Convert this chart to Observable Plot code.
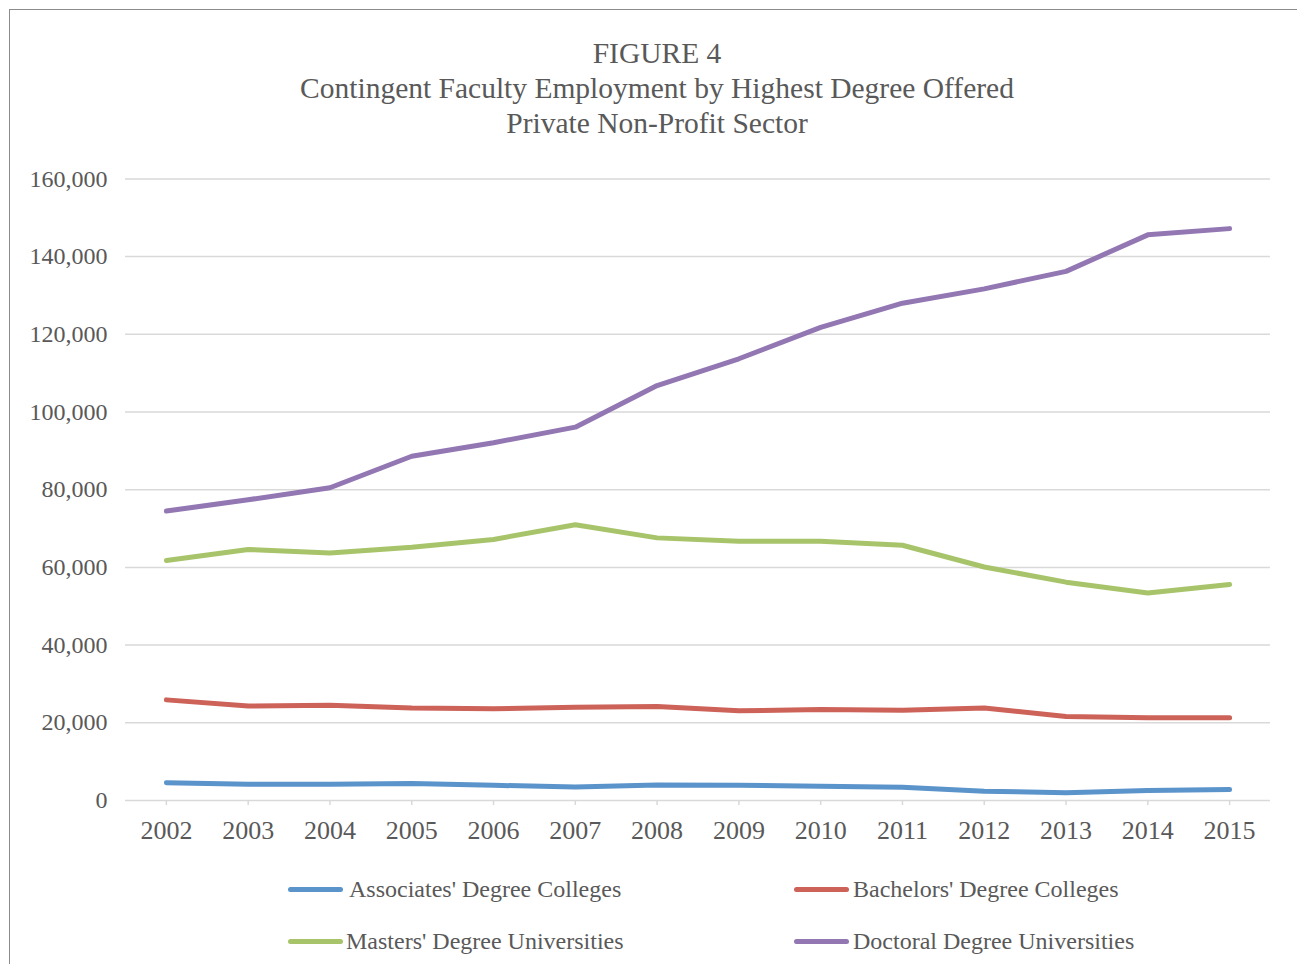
<!DOCTYPE html>
<html>
<head>
<meta charset="utf-8">
<script src="https://cdn.jsdelivr.net/npm/d3@7"></script>
<script src="https://cdn.jsdelivr.net/npm/@observablehq/plot@0.6"></script>
<style>
  html, body { margin: 0; padding: 0; background: #fff; overflow: hidden; }
  body { width: 1297px; height: 964px; position: relative; font-family: "Liberation Serif", "Times New Roman", serif; color: #595959; }
  #frame { position: absolute; left: 9px; top: 9px; width: 1400px; height: 1100px; border: 1.5px solid #8c8c8c; box-sizing: border-box; }
  #title { position: absolute; left: 0; top: 36px; width: 1314px; text-align: center; font-size: 29.5px; line-height: 35px; color: #595959; }
  #chart { position: absolute; left: 0; top: 150px; }
  #chart svg [aria-label="x-axis tick"] { stroke: #d9d9d9; stroke-width: 1.5px; }
  .leg { position: absolute; font-size: 24px; color: #595959; white-space: nowrap; line-height: 28px; }
  .sw { position: absolute; height: 5px; width: 55px; border-radius: 3px; }
</style>
</head>
<body>
<div id="frame"></div>
<div id="title">FIGURE 4<br>Contingent Faculty Employment by Highest Degree Offered<br>Private Non-Profit Sector</div>
<div id="chart"></div>
<div id="legend"></div>
<script>
const years = [2002, 2003, 2004, 2005, 2006, 2007, 2008, 2009, 2010, 2011, 2012, 2013, 2014, 2015];
const seriesNames = ["Associates' Degree Colleges", "Bachelors' Degree Colleges", "Masters' Degree Universities", "Doctoral Degree Universities"];
const seriesColors = ["#5b93cb", "#cd6259", "#a8c46a", "#9277b3"];
const associates = [4600, 4200, 4200, 4400, 3900, 3500, 4000, 3900, 3700, 3400, 2400, 2000, 2600, 2800];
const bachelors = [25900, 24300, 24500, 23800, 23600, 24000, 24200, 23100, 23400, 23200, 23800, 21600, 21300, 21300];
const masters = [61800, 64600, 63700, 65200, 67200, 71000, 67600, 66700, 66700, 65700, 60100, 56200, 53400, 55600];
const doctoral = [74500, 77400, 80500, 88600, 92100, 96100, 106800, 113700, 121800, 128000, 131700, 136200, 145600, 147200];
const yTicks = [0, 20000, 40000, 60000, 80000, 100000, 120000, 140000, 160000];

const seriesValues = [associates, bachelors, masters, doctoral];
const rows = [];
seriesNames.forEach((name, i) => {
  years.forEach((yr, j) => rows.push({series: name, year: String(yr), value: seriesValues[i][j]}));
});

const fmt = d3.format(",");
const chart = Plot.plot({
  width: 1297,
  height: 710,
  marginLeft: 125,
  marginRight: 27,
  marginTop: 28.4,
  marginBottom: 60,
  style: { fontFamily: '"Liberation Serif", "Times New Roman", serif', color: "#595959", background: "transparent", overflow: "visible" },
  x: { type: "point", domain: years.map(String), padding: 0.5, round: false, label: null },
  y: { domain: [0, 160000], label: null },
  color: { domain: seriesNames, range: seriesColors },
  marks: [
    Plot.gridY(yTicks, { stroke: "#d9d9d9", strokeOpacity: 1, strokeWidth: 1.5 }),
    Plot.axisY(yTicks, { tickSize: 0, tickPadding: 18, tickFormat: fmt, fontSize: 24, fill: "#595959", label: null }),
    Plot.axisX({ tickSize: 5, tickPadding: 15, fontSize: 26, fill: "#595959", label: null }),
    Plot.lineY(rows, { x: "year", y: "value", z: "series", stroke: "series", strokeWidth: 5, strokeLinecap: "round", strokeLinejoin: "round" })
  ]
});
document.getElementById("chart").appendChild(chart);

// legend
const legend = document.getElementById("legend");
const legPos = [
  { sw: 288, tx: 349, cy: 889 },
  { sw: 794, tx: 853, cy: 889 },
  { sw: 288, tx: 346, cy: 941 },
  { sw: 794, tx: 853, cy: 941 }
];
seriesNames.forEach((name, i) => {
  const p = legPos[i];
  const s = document.createElement("div");
  s.className = "sw";
  s.style.left = p.sw + "px";
  s.style.top = (p.cy - 2.5) + "px";
  s.style.background = seriesColors[i];
  legend.appendChild(s);
  const t = document.createElement("div");
  t.className = "leg";
  t.style.left = p.tx + "px";
  t.style.top = (p.cy - 14) + "px";
  t.textContent = name;
  legend.appendChild(t);
});
</script>
</body>
</html>
